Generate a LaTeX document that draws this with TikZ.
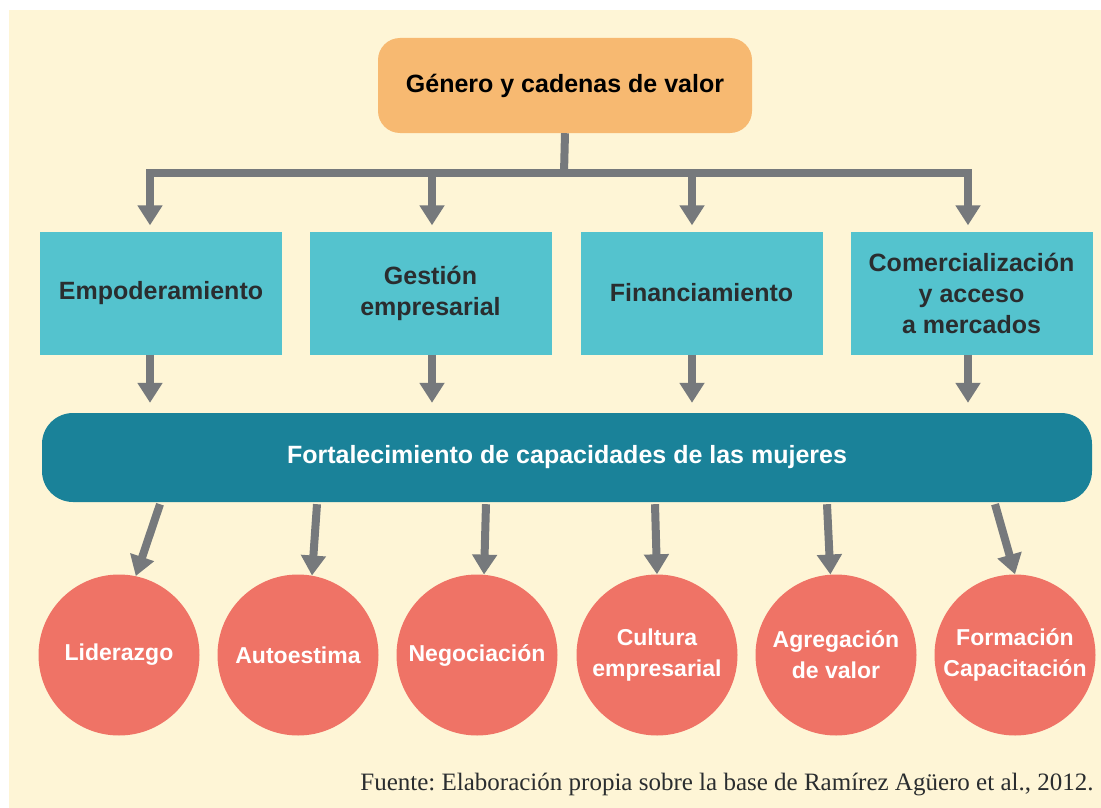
\documentclass[tikz,border=0pt]{standalone}
\usepackage{fontspec}
\setmainfont{Liberation Serif}
\setsansfont{Liberation Sans}
\usetikzlibrary{arrows.meta}
\definecolor{fondo}{HTML}{FEF5D6}
\definecolor{naranja}{HTML}{F7B971}
\definecolor{celeste}{HTML}{54C3CE}
\definecolor{petroleo}{HTML}{1A8299}
\definecolor{salmon}{HTML}{EF7366}
\definecolor{flecha}{HTML}{76797C}
\definecolor{tinta}{HTML}{2A2D2F}
\frenchspacing

\begin{document}
\begin{tikzpicture}[x=1pt,y=-1pt,
	letra/.style={font=\sffamily\bfseries\fontsize{25}{31}\selectfont},
	caja/.style={letra,fill=celeste,text=tinta,minimum width=242pt,minimum height=123pt,inner sep=0pt,align=center},
	circulo/.style={letra,font=\sffamily\bfseries\fontsize{23}{31}\selectfont,circle,fill=salmon,text=white,minimum size=161pt,inner sep=0pt,align=center},
	flechita/.style={draw=flecha,line width=8pt,-{Triangle[width=24pt,length=20pt]}}]
		\fill[white] (0,0) rectangle (1101,808);
		\fill[fondo] (9,10) rectangle (1101,808);
		\node[letra,fill=naranja,text=black,rounded corners=22pt,minimum width=374pt,minimum height=95pt] (tema) at (565,85.5) {Género y cadenas de valor};
		\node[caja] (e1) at (161,293) {Empoderamiento};
		\node[caja] (e2) at (430.5,293) {Gestión\\empresarial};
		\node[caja] (e3) at (701.5,293) {Financiamiento};
		\node[caja] (e4) at (971.5,293) {Comercialización\\y acceso\\a mercados};
		\node[letra,fill=petroleo,text=white,rounded corners=31pt,minimum width=1050pt,minimum height=89pt] (barra) at (567,457.5) {Fortalecimiento de capacidades de las mujeres};
		\node[circulo] (c1) at (119,655) {Liderazgo};
		\node[circulo] (c2) at (298,655) {Autoestima};
		\node[circulo] (c3) at (477,655) {Negociación};
		\node[circulo] (c4) at (657,655) {Cultura\\empresarial};
		\node[circulo] (c5) at (836,655) {Agregación\\de valor};
		\node[circulo] (c6) at (1015,655) {Formación\\Capacitación};
		\node[anchor=base east,text=tinta,font=\fontsize{25}{30}\selectfont] (fuente) at (1097,790) {Fuente: Elaboración propia sobre la base de Ramírez Agüero et al., 2012.};
		\coordinate (nudo) at (564,173);
		\draw[flecha,line width=8pt] (tema.south) -- (nudo);
		\foreach \i/\x in {1/150,2/432,3/692,4/968} {
			\coordinate (p\i) at (\x,0);
			\draw[flechita,shorten >=6pt] (nudo) -| (e\i.north -| p\i);
			\draw[flechita,shorten >=10pt] (e\i.south -| p\i) -- (barra.north -| p\i);
		}
		\foreach \i/\x/\a in {1/160/78,2/317/80,3/486/85,4/655/90,5/827/94,6/995/90} {
			\coordinate (q\i) at (\x,0);
			\draw[flechita] ([yshift=-2pt]barra.south -| q\i) -- (c\i.\a);
		}
	\end{tikzpicture}
\end{document}
